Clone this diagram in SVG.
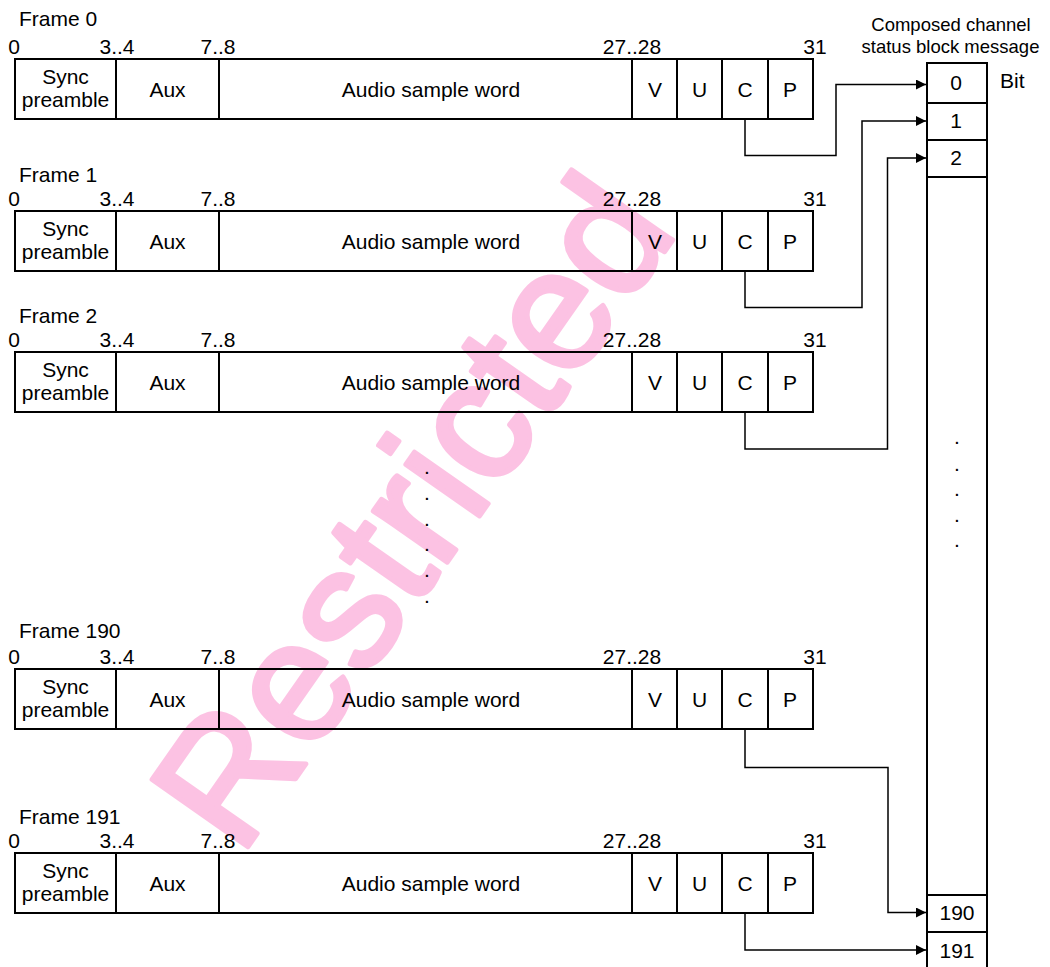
<svg xmlns="http://www.w3.org/2000/svg" width="1050" height="967" viewBox="0 0 1050 967">
<style>
text{font-family:"Liberation Sans",Arial,sans-serif;font-size:21px;fill:#000}
.c{text-anchor:middle}
.box{fill:none;stroke:#000;stroke-width:2}
.div{stroke:#000;stroke-width:2}
.wire{fill:none;stroke:#000;stroke-width:1.5}
.hdr{font-size:18.5px}
.wm{font-size:170px;fill:#FCC2E3;stroke:#FCC2E3;stroke-width:5;stroke-linejoin:round}
</style>
<defs>
<marker id="arr" markerUnits="userSpaceOnUse" markerWidth="10" markerHeight="10" refX="10" refY="5" orient="auto">
<path d="M0,0 L10,5 L0,10 z" fill="#000"/>
</marker>
<g id="frameBody">
<rect class="box" x="15" y="0" width="798" height="60" fill="none"/>
<line class="div" x1="116" y1="0" x2="116" y2="60"/>
<line class="div" x1="219" y1="0" x2="219" y2="60"/>
<line class="div" x1="632" y1="0" x2="632" y2="60"/>
<line class="div" x1="677" y1="0" x2="677" y2="60"/>
<line class="div" x1="722" y1="0" x2="722" y2="60"/>
<line class="div" x1="768" y1="0" x2="768" y2="60"/>
<text class="c" x="14" y="-5">0</text>
<text class="c" x="117" y="-5">3..4</text>
<text class="c" x="218" y="-5">7..8</text>
<text class="c" x="632" y="-5">27..28</text>
<text class="c" x="815" y="-5">31</text>
<text class="c" x="65.5" y="24.5">Sync</text>
<text class="c" x="65.5" y="47.5">preamble</text>
<text class="c" x="167.5" y="38">Aux</text>
<text class="c" x="431" y="38">Audio sample word</text>
<text class="c" x="655" y="38">V</text>
<text class="c" x="699.5" y="38">U</text>
<text class="c" x="745" y="38">C</text>
<text class="c" x="790" y="38">P</text>
</g>
</defs>

<g id="watermark">
<text class="wm" transform="translate(240,858) rotate(-55)">Restricted</text>
</g>

<g id="frame0">
<text x="19" y="26">Frame 0</text>
<use href="#frameBody" transform="translate(0,59)"/>
</g>
<g id="frame1">
<text x="19" y="182">Frame 1</text>
<use href="#frameBody" transform="translate(0,211)"/>
</g>
<g id="frame2">
<text x="19" y="323">Frame 2</text>
<use href="#frameBody" transform="translate(0,352)"/>
</g>
<g id="frame190">
<text x="19" y="638">Frame 190</text>
<use href="#frameBody" transform="translate(0,669)"/>
</g>
<g id="frame191">
<text x="19" y="824">Frame 191</text>
<use href="#frameBody" transform="translate(0,853)"/>
</g>

<g id="gap-dots">
<text class="c" x="427" y="474">.</text>
<text class="c" x="427" y="500">.</text>
<text class="c" x="427" y="525.5">.</text>
<text class="c" x="427" y="551">.</text>
<text class="c" x="427" y="577">.</text>
<text class="c" x="427" y="602.5">.</text>
</g>

<g id="status-block">
<text class="c hdr" x="951" y="31">Composed channel</text>
<text class="c hdr" x="950.5" y="53">status block message</text>
<rect class="box" x="927" y="63" width="60" height="960"/>
<line class="div" x1="927" y1="103" x2="987" y2="103"/>
<line class="div" x1="927" y1="140" x2="987" y2="140"/>
<line class="div" x1="927" y1="177" x2="987" y2="177"/>
<line class="div" x1="927" y1="895" x2="987" y2="895"/>
<line class="div" x1="927" y1="932" x2="987" y2="932"/>
<text class="c" x="956" y="90">0</text>
<text class="c" x="956" y="128">1</text>
<text class="c" x="956" y="165">2</text>
<text class="c" x="957" y="920">190</text>
<text class="c" x="957" y="958">191</text>
<text x="1000" y="88">Bit</text>
<text class="c" x="957" y="444">.</text>
<text class="c" x="957" y="470.5">.</text>
<text class="c" x="957" y="495.5">.</text>
<text class="c" x="957" y="521.5">.</text>
<text class="c" x="957" y="546.5">.</text>
</g>

<g id="connectors">
<polyline class="wire" points="745,120 745,155.5 836,155.5 836,84.5 926,84.5" marker-end="url(#arr)"/>
<polyline class="wire" points="745,272 745,307.5 862,307.5 862,121 926,121" marker-end="url(#arr)"/>
<polyline class="wire" points="745,413 745,449 887.5,449 887.5,158 926,158" marker-end="url(#arr)"/>
<polyline class="wire" points="745,730 745,767.5 888,767.5 888,912.5 926,912.5" marker-end="url(#arr)"/>
<polyline class="wire" points="745,914 745,950 926,950" marker-end="url(#arr)"/>
</g>
</svg>
